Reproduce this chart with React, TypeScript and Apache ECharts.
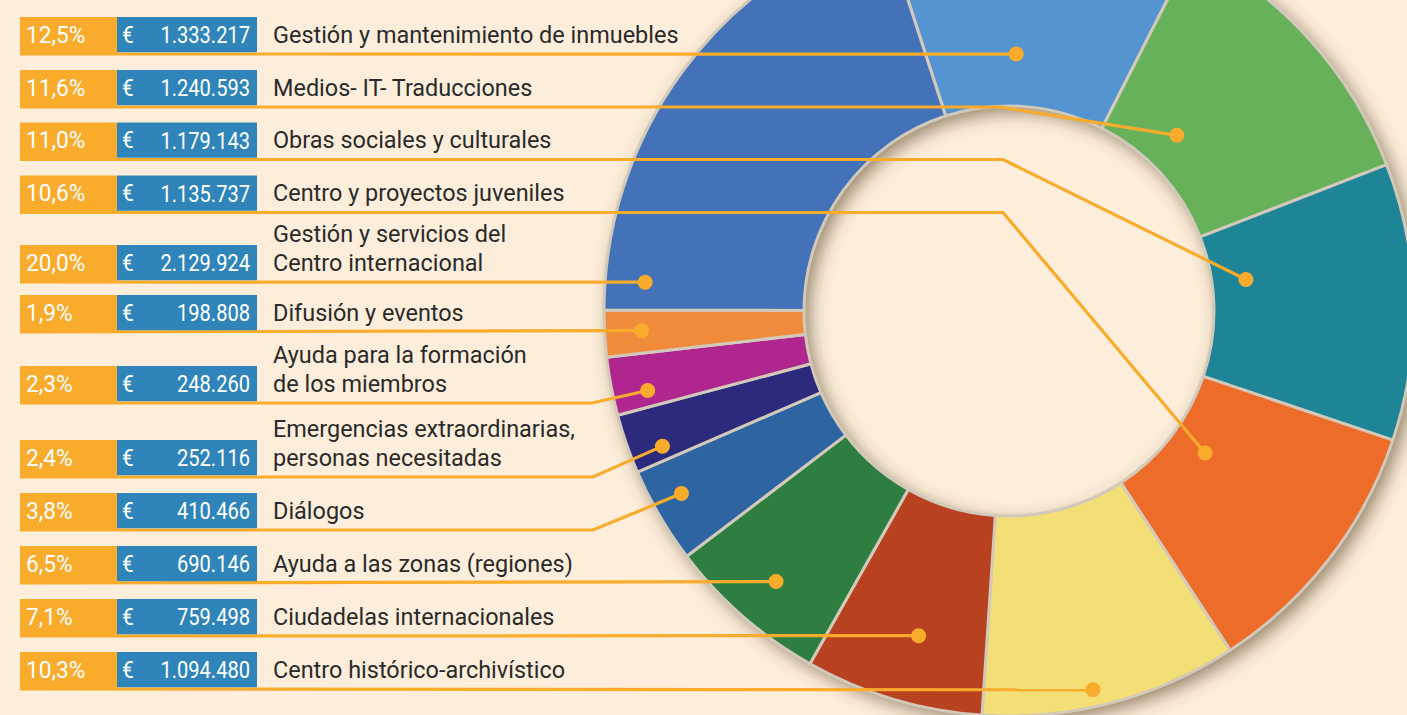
import React, { useEffect, useRef } from "react";
import * as echarts from "echarts";

// ---------- DATA (table order, top to bottom) ----------
const categories = [
  "Gestión y mantenimiento de inmuebles",
  "Medios- IT- Traducciones",
  "Obras sociales y culturales",
  "Centro y proyectos juveniles",
  "Gestión y servicios del\nCentro internacional",
  "Difusión y eventos",
  "Ayuda para la formación\nde los miembros",
  "Emergencias extraordinarias,\npersonas necesitadas",
  "Diálogos",
  "Ayuda a las zonas (regiones)",
  "Ciudadelas internacionales",
  "Centro histórico-archivístico",
];
const euros = [
  1333217, 1240593, 1179143, 1135737, 2129924, 198808, 248260, 252116, 410466,
  690146, 759498, 1094480,
];
// clockwise order of the slices in the ring (indices into the arrays above)
const pieOrder = [0, 1, 2, 3, 11, 10, 9, 8, 7, 6, 5, 4];

// ---------- STYLE / LAYOUT ----------
const sliceColors = [
  "#5495d1", "#67b15a", "#1e8597", "#ee6c2a", "#4472b9", "#f08b3c",
  "#b0268f", "#2c2a7d", "#2d64a1", "#2d7e40", "#b8411f", "#f4de76",
];
const BG = "#fdeedb";
const ORANGE = "#f9ab2c";
const BLUE = "#2f85ba";
const TEXT = "#2a2a2a";
const FONT = "Roboto";

const CX = 1009, CY = 311, R0 = 205, R1 = 405, START = 108;
const rowTops = [17, 70, 122.5, 175.5, 245, 295, 366, 440, 493, 546, 599, 652];
const BOX_H = 35.3;
// where each leader ends inside its slice: fraction of slice angle, radius
const anchorFrac = [0.436, 0.4, 0.342, 0.452, 0.061, 0.52, 0.3, 0.25, 0.588, 0.485, 0.458, 0.558];
const anchorR = [257, 243, 239, 242, 365, 368, 370, 372, 375, 357, 337, 388];
const bendX: (number | null)[] = [null, 1000, 1003, 1003, null, null, 592, 593, 593, null, null, null];

const fmtEuro = (v: number) => String(v).replace(/\B(?=(\d{3})+(?!\d))/g, ".");

export default function App() {
  const ref = useRef<HTMLDivElement>(null);
  useEffect(() => {
    document.body.style.margin = "0";
    const chart = echarts.init(ref.current!, null, { renderer: "svg" });
    const total = euros.reduce((a, b) => a + b, 0);

    // anchor points from the slice geometry
    const anchors: [number, number][] = new Array(euros.length);
    let cum = 0;
    pieOrder.forEach((idx) => {
      const a0 = START - (cum / total) * 360;
      const span = (euros[idx] / total) * 360;
      const a = ((a0 - anchorFrac[idx] * span) * Math.PI) / 180;
      anchors[idx] = [CX + anchorR[idx] * Math.cos(a), CY - anchorR[idx] * Math.sin(a)];
      cum += euros[idx];
    });

    const lines: any[] = [];
    const boxes: any[] = [];
    const texts: any[] = [];
    const dots: any[] = [];
    categories.forEach((name, i) => {
      const top = rowTops[i];
      const mid = top + BOX_H / 2;
      const lineY = top + 37;
      const pts: number[][] = [[20, lineY]];
      if (bendX[i] != null) pts.push([bendX[i] as number, lineY]);
      pts.push(anchors[i]);
      lines.push({
        type: "polyline", z: 100,
        shape: { points: pts },
        style: { stroke: ORANGE, lineWidth: 3.2, fill: null },
      });
      dots.push({
        type: "circle", z: 100,
        shape: { cx: anchors[i][0], cy: anchors[i][1], r: 7.5 },
        style: { fill: ORANGE },
      });
      boxes.push({
        type: "rect", z: 100,
        shape: { x: 20, y: top, width: 97, height: BOX_H + 1 },
        style: { fill: ORANGE },
      });
      boxes.push({
        type: "rect", z: 100,
        shape: { x: 117, y: top, width: 140, height: BOX_H },
        style: { fill: BLUE },
      });
      const pct = ((euros[i] / total) * 100).toFixed(1).replace(".", ",") + "%";
      texts.push({
        type: "text", z: 101, x: 26, y: mid, scaleX: 0.93,
        style: {
          text: pct, fill: "#ffffff", fontSize: 24.5, fontFamily: FONT,
          align: "left", verticalAlign: "middle", textAlign: "left", textVerticalAlign: "middle",
        },
      });
      texts.push({
        type: "text", z: 101, x: 122, y: mid, scaleX: 0.85,
        style: {
          text: "€", fill: "#ffffff", fontSize: 24.5, fontFamily: FONT,
          align: "left", verticalAlign: "middle", textAlign: "left", textVerticalAlign: "middle",
        },
      });
      texts.push({
        type: "text", z: 101, x: 250, y: mid, scaleX: 0.82,
        style: {
          text: fmtEuro(euros[i]), fill: "#ffffff", fontSize: 24.5, fontFamily: FONT,
          align: "right", verticalAlign: "middle", textAlign: "right", textVerticalAlign: "middle",
        },
      });
      texts.push({
        type: "text", z: 101, x: 273, y: mid + 14.5, scaleX: 0.957,
        style: {
          text: name, fill: TEXT, fontSize: 24.5, fontFamily: FONT, lineHeight: 29,
          align: "left", verticalAlign: "bottom", textAlign: "left", textVerticalAlign: "bottom",
        },
      });
    });

    const option: any = {
      animation: false,
      backgroundColor: BG,
      series: [
        {
          type: "pie",
          z: 1,
          silent: true,
          center: [CX, CY],
          radius: [R0, R1],
          startAngle: START,
          label: { show: false },
          labelLine: { show: false },
          emphasis: { disabled: true },
          data: [
            {
              value: 1,
              itemStyle: {
                color: BG,
                shadowBlur: 18,
                shadowColor: "rgba(80,60,30,0.6)",
                shadowOffsetX: 6,
                shadowOffsetY: 6,
              },
            },
          ],
        },
        {
          type: "pie",
          z: 2,
          silent: true,
          center: [CX, CY],
          radius: [R0, R1],
          startAngle: START,
          clockwise: true,
          label: { show: false },
          labelLine: { show: false },
          emphasis: { disabled: true },
          itemStyle: { borderColor: "#d2c9ba", borderWidth: 3 },
          data: pieOrder.map((idx) => ({
            name: categories[idx].replace("\n", " "),
            value: euros[idx],
            itemStyle: { color: sliceColors[idx] },
          })),
        },
      ],
      graphic: { elements: [...lines, ...boxes, ...texts, ...dots] },
    };
    chart.setOption(option);
    return () => chart.dispose();
  }, []);
  return (
    <div
      ref={ref}
      style={{ position: "absolute", left: 0, top: 0, width: 1407, height: 715, background: BG }}
    />
  );
}
